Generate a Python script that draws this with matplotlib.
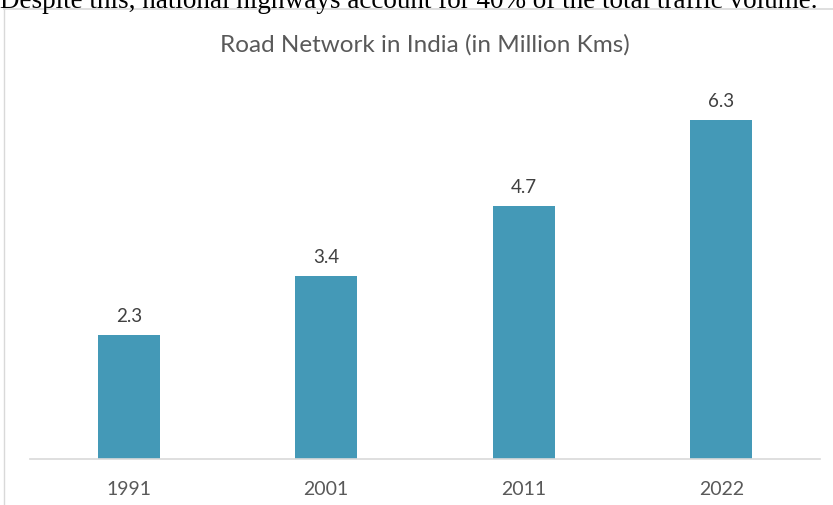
import matplotlib.pyplot as plt
from matplotlib.lines import Line2D

# ── Data ──────────────────────────────────────────────────────────────────────
years = ["1991", "2001", "2011", "2022"]
road_km = [2.3, 3.4, 4.7, 6.3]

TITLE = "Road Network in India (in Million Kms)"
CAPTION = "Despite this, national highways account for 40% of the total traffic volume."

BAR_COLOR = "#4499b7"
W, H = 833, 506

plt.rcParams["font.family"] = ["Lato", "DejaVu Sans"]

fig = plt.figure(figsize=(W / 100, H / 100), dpi=100)

# cut-off sentence from the surrounding page
fig.text(0 / W, 1 - 8 / H, CAPTION, family="Liberation Serif", fontsize=19.5,
         color="black", ha="left", va="baseline")

# chart frame (top + left edges)
fig.add_artist(Line2D([4 / W, 1], [1 - 10 / H] * 2, transform=fig.transFigure,
                      color="#d9d9d9", lw=1.2))
fig.add_artist(Line2D([4 / W] * 2, [0, 1 - 10 / H], transform=fig.transFigure,
                      color="#d9d9d9", lw=1.0))

ax = fig.add_axes([30 / W, 46 / H, 790 / W, 380 / H])
x = range(len(years))
bars = ax.bar(x, road_km, width=0.315, color=BAR_COLOR)

for b, v in zip(bars, road_km):
    ax.text(b.get_x() + b.get_width() / 2, v + 0.2, f"{v}", ha="center",
            va="bottom", fontsize=13.5, color="#404040")

ax.set_xlim(-0.5, len(years) - 0.5)
ax.set_ylim(0, 380 / 53.8)
ax.set_xticks(list(x))
ax.set_xticklabels(years, fontsize=14, color="#595959")
ax.tick_params(axis="x", length=0, pad=15)
ax.set_yticks([])
for side in ["top", "right", "left"]:
    ax.spines[side].set_visible(False)
ax.spines["bottom"].set_color("#d9d9d9")
ax.spines["bottom"].set_linewidth(1.2)

fig.text(425 / W, 1 - 45 / H, TITLE, ha="center", va="center",
         fontsize=17.5, color="#595959")

fig.savefig("out.png", dpi=100)
